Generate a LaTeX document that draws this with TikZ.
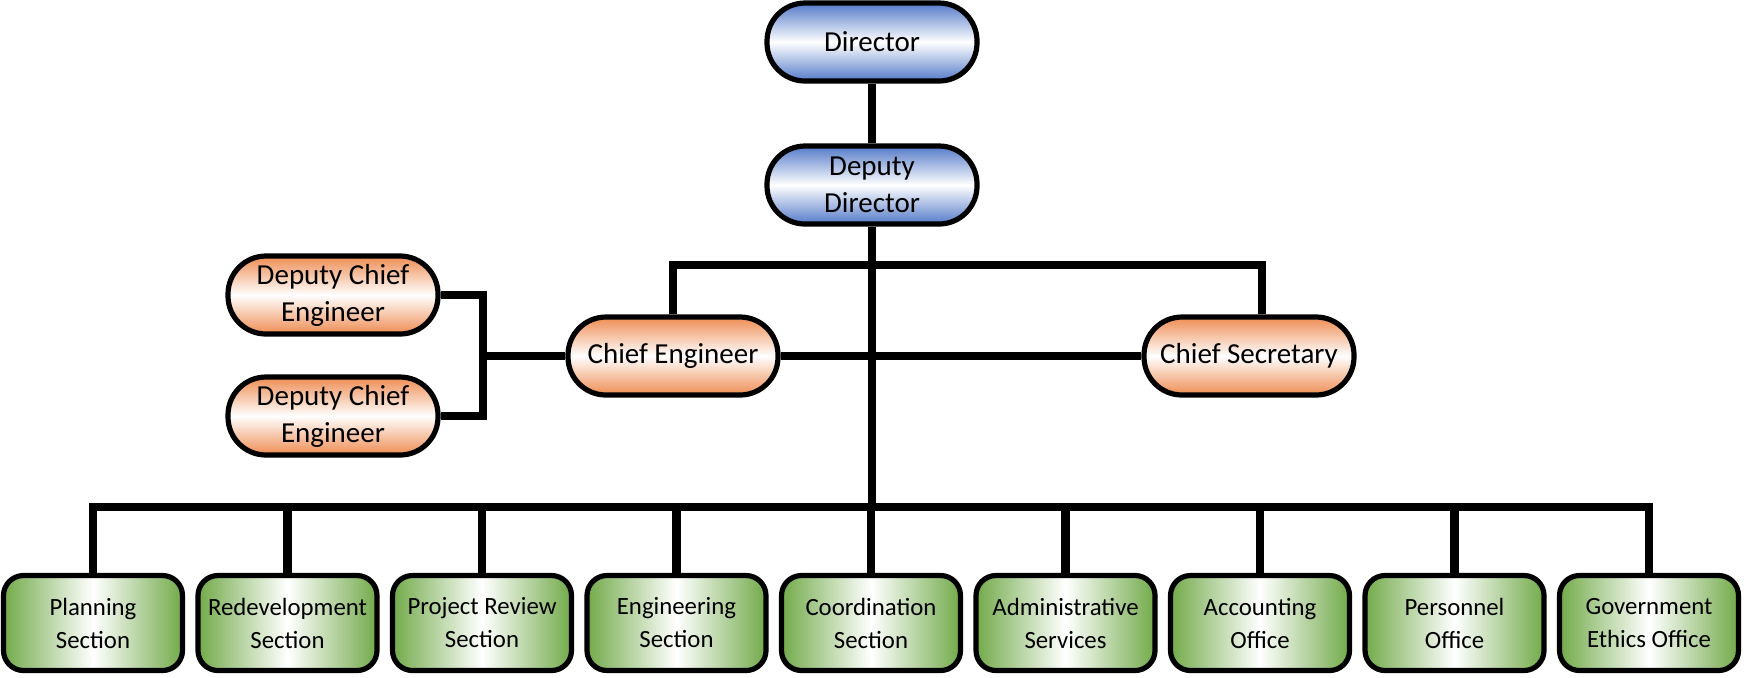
\documentclass[tikz,border=0pt]{standalone}
\usepackage{fontspec}
\setmainfont{Carlito}
\definecolor{bl}{RGB}{84,122,200}
\definecolor{orn}{RGB}{238,140,82}
\definecolor{grn}{RGB}{114,170,74}
\begin{document}
\begin{tikzpicture}[x=0.5pt,y=-0.5pt,
  pill/.style={draw=black, line width=2.6pt, rounded corners=19pt,
    minimum width=105pt, minimum height=39pt, align=center,
    font=\fontsize{14.5}{18.5}\selectfont, inner sep=0pt},
  topbox/.style={pill, top color=bl, bottom color=bl, middle color=white},
  orbox/.style={pill, top color=orn, bottom color=orn, middle color=white},
  grbox/.style={draw=black, line width=2.6pt, rounded corners=10pt,
    minimum width=89.5pt, minimum height=47.5pt, align=center,
    font=\fontsize{12.4}{16.5}\selectfont, inner sep=0pt,
    left color=grn, right color=grn, middle color=white},
  conn/.style={line width=4.4pt, line join=miter}]
\useasboundingbox (0,0) rectangle (1749,677);

\node[topbox] (dir) at (872,42) {Director};
\node[topbox] (dd) at (872,185) {Deputy\\Director};
\node[orbox] (ce) at (673,356) {Chief Engineer};
\node[orbox] (cs) at (1249,356) {Chief Secretary};
\node[orbox] (dce1) at (333,295) {Deputy Chief\\Engineer};
\node[orbox] (dce2) at (333,416) {Deputy Chief\\Engineer};

\foreach \i/\t in {1/{Planning\\Section},2/{Redevelopment\\Section},3/{Project Review\\Section},4/{Engineering\\Section},5/{Coordination\\Section},6/{Administrative\\Services},7/{Accounting\\Office},8/{Personnel\\Office},9/{Government\\Ethics Office}}
  \node[grbox] (g\i) at ({93+194.5*(\i-1)},623) {\t};

\coordinate (bb) at (872,507);
\coordinate (csdrop) at (1262,265);
\coordinate (br) at (483,356);

\draw[conn] (dir.south) -- (dd.north);
\draw[conn] (dd.south) -- (bb);
\draw[conn] (ce.north) |- (csdrop) -- (csdrop |- cs.north);
\draw[conn] (ce.east) -- (cs.west);
\draw[conn] (dce1.east) -| (br) |- (dce2.east);
\draw[conn] (br) -- (br -| ce.west);
\draw[conn] (g1.north) |- (bb) -| (g9.north);
\foreach \i in {2,...,8}
  \draw[conn] (g\i.north) -- (g\i.north |- bb);
\end{tikzpicture}
\end{document}
